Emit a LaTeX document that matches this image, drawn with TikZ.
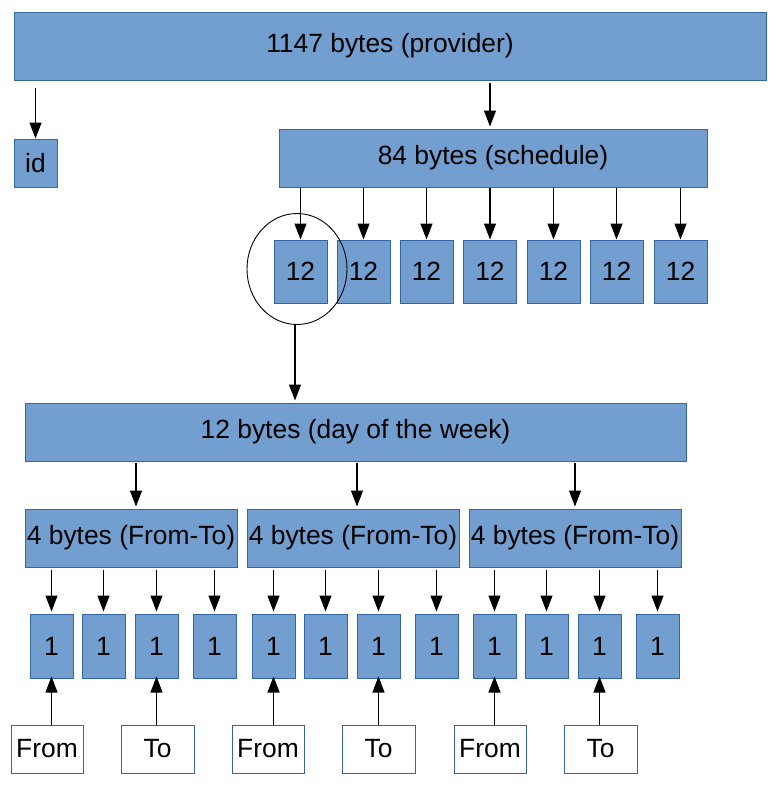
\documentclass[tikz,border=0pt]{standalone}
\usepackage{fontspec}
\setmainfont{Liberation Sans}
\usetikzlibrary{arrows.meta,shapes.geometric}
\definecolor{boxfill}{HTML}{729FCF}
\definecolor{boxline}{HTML}{3465A4}
\tikzset{
  blk/.style={draw=boxline, fill=boxfill, line width=1pt, inner sep=0pt, font=\fontsize{26.4}{31}\selectfont, text=black},
  wbox/.style={draw=boxline, fill=white, line width=1pt, inner sep=0pt, font=\fontsize{26.4}{31}\selectfont, minimum width=72pt, minimum height=48pt},
  tw/.style={blk, minimum width=53pt, minimum height=63pt},
  one/.style={blk, minimum width=43pt, minimum height=64pt},
  fb/.style={blk, minimum width=212pt, minimum height=58pt},
  arr/.style={draw=black, line width=1.2pt, -{Triangle[length=16pt,width=12pt]}}
}
\begin{document}
\begin{tikzpicture}[x=1pt,y=-1pt]
\useasboundingbox (0,0) rectangle (771,788);
% top
\node[blk, minimum width=752pt, minimum height=68pt] (top) at (390,46) {1147 bytes (provider)};
\node[blk, minimum width=43pt, minimum height=48pt] (id) at (35.5,163) {id};
\node[blk, minimum width=428pt, minimum height=58pt] (sched) at (493,158) {84 bytes (schedule)};
\draw[arr] ([yshift=-7pt]top.south -| id.north) -- (id.north);
\draw[arr] ([yshift=-2pt]top.south -| 490,0) -- ([yshift=2pt]sched.north -| 490,0);
% twelve boxes
\foreach \i/\x in {1/300.5,2/363.5,3/426.5,4/490,5/553.5,6/616.5,7/680.5}{
  \node[tw] (t\i) at (\x,271.5) {12};
  \draw[arr] (sched.south -| t\i.north) -- (t\i.north);
}
\node[draw=black, line width=0.9pt, ellipse, minimum width=100pt, minimum height=111pt, inner sep=0pt] (circ) at (297,269) {};
% day
\node[blk, minimum width=661pt, minimum height=58pt] (day) at (355.5,432) {12 bytes (day of the week)};
\draw[arr] ([yshift=1pt]circ.south -| 295,0) -- ([yshift=2pt]day.north -| 295,0);
% four-byte boxes
\node[fb] (f1) at (131,538) {4 bytes (From-To)};
\node[fb] (f2) at (353,538) {4 bytes (From-To)};
\node[fb] (f3) at (575,538) {4 bytes (From-To)};
\draw[arr] ([yshift=-1pt]day.south -| 136,0) -- ([yshift=2pt]f1.north -| 136,0);
\draw[arr] ([yshift=-1pt]day.south -| 357,0) -- ([yshift=2pt]f2.north -| 357,0);
\draw[arr] ([yshift=-1pt]day.south -| 575,0) -- ([yshift=2pt]f3.north -| 575,0);
% one-byte boxes
\foreach \g/\o in {1/0,2/222,3/443}{
  \foreach \k/\x in {1/51.5,2/103.5,3/156.5,4/214.5}{
    \node[one] (o\g\k) at (\x+\o,646) {1};
    \draw[arr] ([yshift=-2pt]f\g.south -| o\g\k.north) -- ([yshift=2pt]o\g\k.north);
  }
}
% From / To boxes
\node[wbox] (fr1) at (47,749) {From};
\node[wbox, minimum width=73pt] (to1) at (157.5,749) {To};
\node[wbox] (fr2) at (268,749) {From};
\node[wbox, minimum width=73pt] (to2) at (378.5,749) {To};
\node[wbox] (fr3) at (490,749) {From};
\node[wbox, minimum width=73pt] (to3) at (600.5,749) {To};
\foreach \g in {1,2,3}{
  \draw[arr] (fr\g.north -| o\g1.south) -- ([yshift=2pt]o\g1.south);
  \draw[arr] (to\g.north -| o\g3.south) -- ([yshift=2pt]o\g3.south);
}
\end{tikzpicture}
\end{document}
